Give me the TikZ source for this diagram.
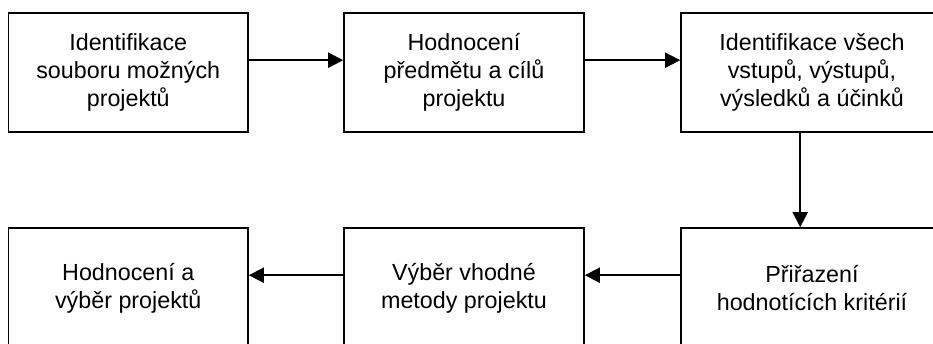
\documentclass[tikz,border=0pt]{standalone}
\usepackage{fontspec}
\setmainfont{Liberation Sans}
\usetikzlibrary{arrows.meta}
\tikzset{
  procbox/.style={draw=black, line width=1.6pt, inner sep=0pt, align=center,
    font=\fontsize{23.3}{28}\selectfont},
  arr/.style={line width=1.8pt, -{Triangle[length=15pt,width=15pt]}}
}
\begin{document}
\begin{tikzpicture}[x=1pt,y=-1pt]
\useasboundingbox (0,0) rectangle (933,344);
% top row
\node[procbox, minimum width=239.5pt, minimum height=119pt] (b1) at (128.25,72.5)
  {Identifikace\\souboru možných\\projektů};
\node[procbox, minimum width=240pt, minimum height=119pt] (b2) at (464,72.5)
  {Hodnocení\\předmětu a cílů\\projektu};
\node[procbox, minimum width=262pt, minimum height=119pt] (b3) at (812,72.5)
  {Identifikace všech\\vstupů, výstupů,\\výsledků a účinků};
% bottom row
\node[procbox, minimum width=239.5pt, minimum height=120pt] (b4) at (128.25,288)
  {Hodnocení a\\výběr projektů};
\node[procbox, minimum width=240pt, minimum height=120pt] (b5) at (464,288)
  {Výběr vhodné\\metody projektu};
\node[procbox, minimum width=262pt, minimum height=120pt] (b6) at (812,288)
  {Přiřazení\\hodnotících kritérií};
% connectors
\draw[arr] ([yshift=-48pt]b1.north east) -- ([yshift=-48pt]b2.north west);
\draw[arr] ([yshift=-48pt]b2.north east) -- ([yshift=-48pt]b3.north west);
\draw[arr] ([xshift=120pt]b3.south west) -- ([xshift=120pt]b6.north west);
\draw[arr] ([yshift=-48pt]b6.north west) -- ([yshift=-48pt]b5.north east);
\draw[arr] ([yshift=-48pt]b5.north west) -- ([yshift=-48pt]b4.north east);
\end{tikzpicture}
\end{document}
